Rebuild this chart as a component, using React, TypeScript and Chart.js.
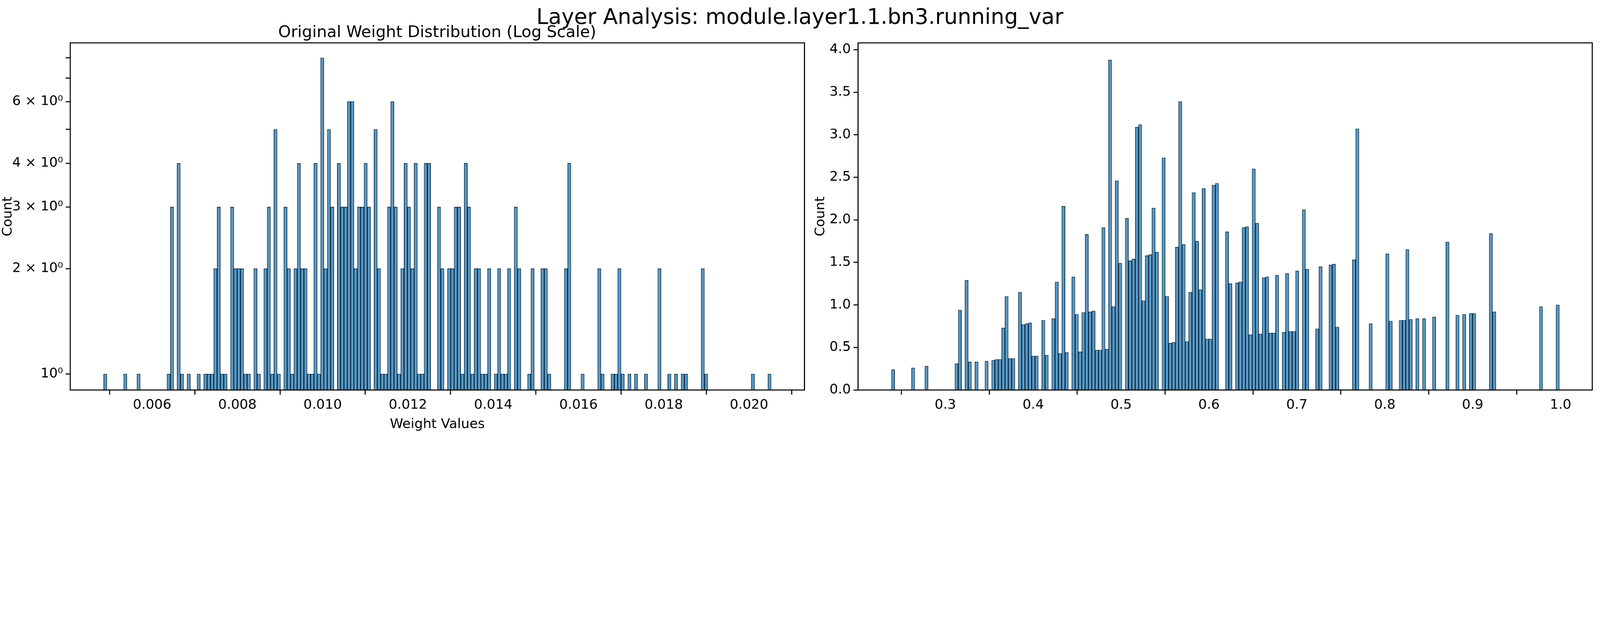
import { useEffect, useRef } from "react";
import { Chart, registerables, type ChartConfiguration } from "chart.js";

Chart.register(...registerables);

const _ = null;

// histogram bins (200 bins, same edges for both panels)
const leftBinStart = 0.0049;
const leftBinWidth = 0.0000783;
const rightBinStart = 0.2405;
const rightBinWidth = 0.0038;

const leftCounts: (number | null)[] = [
  1, _, _, _, _, _, 1, _, _, _, 1, _, _, _, _, _, _, _, _, 1,
  3, _, 4, 1, _, 1, _, _, 1, _, 1, 1, 1, 2, 3, 1, 1, _, 3, 2,
  2, 2, 1, 1, _, 2, 1, _, 2, 3, 1, 5, 1, _, 3, 2, 1, 2, 4, 2,
  2, 1, 1, 4, 1, 8, 2, 5, 3, _, 4, 3, 3, 6, 6, 2, 3, 3, 4, 3,
  _, 5, 2, 1, 1, 3, 6, 3, 1, 2, 4, 3, 2, 4, 1, 1, 4, 4, _, _,
  3, 2, _, 2, 2, 3, 3, 1, 4, 3, 1, 2, 2, 1, 1, 2, _, 1, 2, 1,
  1, 2, _, 3, 2, _, _, 1, 2, _, _, 2, 2, 1, _, _, _, _, 2, 4,
  _, _, _, 1, _, _, _, _, 2, 1, _, _, 1, 1, 2, 1, _, 1, _, 1,
  _, _, 1, _, _, _, 2, _, _, 1, _, 1, _, 1, 1, _, _, _, _, 2,
  1, _, _, _, _, _, _, _, _, _, _, _, _, _, 1, _, _, _, _, 1
];

const rightValues: (number | null)[] = [
  0.24, _, _, _, _, _, 0.26, _, _, _, 0.28, _, _, _, _, _, _, _, _, 0.31,
  0.94, _, 1.29, 0.33, _, 0.33, _, _, 0.34, _, 0.35, 0.36, 0.36, 0.73, 1.1, 0.37, 0.37, _, 1.15, 0.77,
  0.78, 0.79, 0.4, 0.4, _, 0.82, 0.41, _, 0.84, 1.27, 0.43, 2.16, 0.44, _, 1.33, 0.89, 0.45, 0.91, 1.83, 0.92,
  0.93, 0.47, 0.47, 1.91, 0.48, 3.88, 0.98, 2.46, 1.49, _, 2.02, 1.52, 1.54, 3.09, 3.12, 1.05, 1.58, 1.59, 2.14, 1.62,
  _, 2.73, 1.1, 0.55, 0.56, 1.68, 3.39, 1.71, 0.57, 1.15, 2.32, 1.75, 1.18, 2.37, 0.6, 0.6, 2.41, 2.43, _, _,
  1.86, 1.25, _, 1.26, 1.27, 1.91, 1.92, 0.65, 2.6, 1.96, 0.66, 1.32, 1.33, 0.67, 0.67, 1.35, _, 0.68, 1.37, 0.69,
  0.69, 1.4, _, 2.12, 1.42, _, _, 0.72, 1.45, _, _, 1.47, 1.48, 0.74, _, _, _, _, 1.53, 3.07,
  _, _, _, 0.78, _, _, _, _, 1.6, 0.81, _, _, 0.82, 0.82, 1.65, 0.83, _, 0.84, _, 0.84,
  _, _, 0.86, _, _, _, 1.74, _, _, 0.88, _, 0.89, _, 0.9, 0.9, _, _, _, _, 1.84,
  0.92, _, _, _, _, _, _, _, _, _, _, _, _, _, 0.98, _, _, _, _, 1.0
];

const leftXTicks = [0.006, 0.008, 0.01, 0.012, 0.014, 0.016, 0.018, 0.02];
const rightXTicks = [0.3, 0.4, 0.5, 0.6, 0.7, 0.8, 0.9, 1.0];
const leftYTicks = [1, 2, 3, 4, 5, 6, 7, 8];
const leftYLabels: Record<number, string> = {
  1: "10⁰",
  2: "2 × 10⁰",
  3: "3 × 10⁰",
  4: "4 × 10⁰",
  6: "6 × 10⁰"
};
const rightYTicks = [0, 0.5, 1, 1.5, 2, 2.5, 3, 3.5, 4];

const FONT = "DejaVu Sans";
const BAR_FILL = "rgba(31,119,180,0.75)";
const FIG_W = 5965;
const FIG_H = 1614;

const frame = {
  id: "frame",
  afterDatasetsDraw(chart: Chart) {
    const { ctx, chartArea: a } = chart;
    ctx.save();
    ctx.strokeStyle = "#000";
    ctx.lineWidth = 4;
    ctx.strokeRect(a.left, a.top, a.right - a.left, a.bottom - a.top);
    ctx.restore();
  }
};

const tickGrid = { display: true, drawOnChartArea: false, drawTicks: true, tickLength: 17, tickWidth: 4, color: "#000" };

function makeConfig(
  values: (number | null)[],
  start: number,
  width: number,
  xRange: [number, number],
  xTicks: number[],
  xTitle: string,
  yLog: boolean,
  yRange: [number, number],
  yTicks: number[],
  yWidth: number,
  padRight: number,
  fmtY: (v: number) => string,
  fmtX: (v: number) => string
): ChartConfiguration<"bar"> {
  return {
    type: "bar",
    data: {
      datasets: [
        {
          data: values.map((v, i) => ({ x: start + i * width, y: v as number })),
          backgroundColor: BAR_FILL,
          borderColor: "#000",
          borderWidth: 1.5,
          barPercentage: 1,
          categoryPercentage: 1
        }
      ]
    },
    options: {
      animation: false,
      responsive: true,
      maintainAspectRatio: false,
      devicePixelRatio: 1,
      layout: { padding: { top: 160, right: padRight, left: 0, bottom: 0 } },
      plugins: { legend: { display: false }, tooltip: { enabled: false } },
      scales: {
        x: {
          type: "linear",
          min: xRange[0],
          max: xRange[1],
          offset: false,
          grid: tickGrid,
          border: { display: false },
          afterBuildTicks: (s: any) => {
            s.ticks = xTicks.map((v) => ({ value: v }));
          },
          afterFit: (s: any) => {
            s.height = 159;
          },
          ticks: {
            color: "#000",
            font: { family: FONT, size: 50 },
            padding: 10,
            maxRotation: 0,
            autoSkip: false,
            callback: (v: any) => fmtX(Number(v))
          },
          title: { display: xTitle !== "", text: xTitle, color: "#000", font: { family: FONT, size: 50 }, padding: { top: 6, bottom: 0 } }
        },
        y: {
          type: yLog ? "logarithmic" : "linear",
          min: yRange[0],
          max: yRange[1],
          grid: tickGrid,
          border: { display: false },
          afterBuildTicks: (s: any) => {
            s.ticks = yTicks.map((v) => ({ value: v }));
          },
          afterFit: (s: any) => {
            s.width = yWidth;
          },
          ticks: {
            color: "#000",
            font: { family: FONT, size: 50 },
            padding: 10,
            autoSkip: false,
            callback: (v: any) => fmtY(Number(v))
          },
          title: { display: true, text: "Count", color: "#000", font: { family: FONT, size: 50 }, padding: { top: 0, bottom: 10 } }
        }
      }
    },
    plugins: [frame]
  };
}

function ChartCanvas({ config }: { config: ChartConfiguration<"bar"> }) {
  const canvasRef = useRef<HTMLCanvasElement | null>(null);
  useEffect(() => {
    const canvas = canvasRef.current;
    if (!canvas) return;
    const chart = new Chart(canvas, config);
    return () => chart.destroy();
  }, [config]);
  return <canvas ref={canvasRef} />;
}

const leftConfig = makeConfig(
  leftCounts, leftBinStart, leftBinWidth, [0.00408, 0.0213], leftXTicks, "Weight Values",
  true, [0.9, 8.83], leftYTicks, 262, 31,
  (v) => leftYLabels[v] ?? "",
  (v) => v.toFixed(3)
);

const rightConfig = makeConfig(
  rightValues, rightBinStart, rightBinWidth, [0.2007, 1.036], rightXTicks, "",
  false, [0, 4.08], rightYTicks, 169, 29,
  (v) => v.toFixed(1),
  (v) => v.toFixed(1)
);

export default function App() {
  useEffect(() => {
    document.body.style.margin = "0";
    document.body.style.overflow = "hidden";
  }, []);
  // the figure is laid out at 5965x1614 and scaled to fit the viewport
  const scale = Math.min(window.innerWidth / FIG_W, window.innerHeight / FIG_H);
  const text = { position: "absolute" as const, fontFamily: FONT, color: "#000", whiteSpace: "nowrap" as const, transform: "translate(-50%, -50%)", lineHeight: 1 };
  return (
    <div style={{ width: FIG_W * scale, height: FIG_H * scale, overflow: "hidden" }}>
      <div style={{ position: "relative", width: FIG_W, height: FIG_H, background: "#fff", transform: `scale(${scale})`, transformOrigin: "0 0" }}>
        <div style={{ position: "absolute", left: 0, top: 0, width: 3030, height: 1614 }}>
          <ChartCanvas config={leftConfig} />
        </div>
        <div style={{ position: "absolute", left: 3030, top: 0, width: 2935, height: 1614 }}>
          <ChartCanvas config={rightConfig} />
        </div>
        <div style={{ ...text, left: 2982, top: 62, fontSize: 80 }}>Layer Analysis: module.layer1.1.bn3.running_var</div>
        <div style={{ ...text, left: 1630, top: 118, fontSize: 60 }}>Original Weight Distribution (Log Scale)</div>
      </div>
    </div>
  );
}
